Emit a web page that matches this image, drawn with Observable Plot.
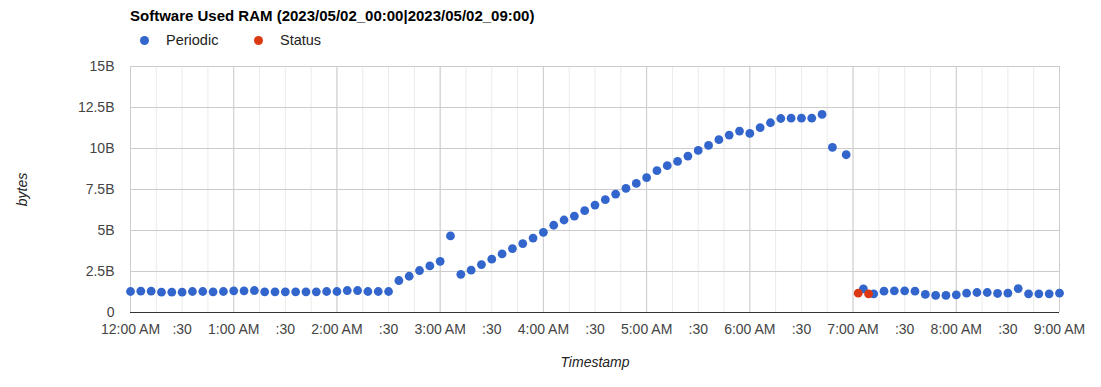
<!DOCTYPE html>
<html><head><meta charset="utf-8">
<script src="https://cdn.jsdelivr.net/npm/d3@7"></script>
<script src="https://cdn.jsdelivr.net/npm/@observablehq/plot@0.6"></script>
<style>
body{margin:0;background:#fff;font-family:"Liberation Sans",Arial,sans-serif;}
#hdr{position:relative;width:1101px;height:56px;}
#title{position:absolute;left:130px;top:8px;font-size:15px;font-weight:bold;color:#000;line-height:15px;white-space:nowrap;}
.sw{position:absolute;width:9px;height:9px;border-radius:50%;top:35.5px;}
.lt{position:absolute;top:32px;font-size:14.5px;line-height:16px;color:#222;white-space:nowrap;}
#chart svg{display:block;}
</style></head><body>
<div id="hdr">
  <div id="title">Software Used RAM (2023/05/02_00:00|2023/05/02_09:00)</div>
  <div id="legend"></div>
</div>
<div id="chart"></div>
<script>
const periodicTimes = [
 "00:00","00:06","00:12","00:18","00:24","00:30","00:36","00:42","00:48","00:54",
 "01:00","01:06","01:12","01:18","01:24","01:30","01:36","01:42","01:48","01:54",
 "02:00","02:06","02:12","02:18","02:24","02:30","02:36","02:42","02:48","02:54",
 "03:00","03:06","03:12","03:18","03:24","03:30","03:36","03:42","03:48","03:54",
 "04:00","04:06","04:12","04:18","04:24","04:30","04:36","04:42","04:48","04:54",
 "05:00","05:06","05:12","05:18","05:24","05:30","05:36","05:42","05:48","05:54",
 "06:00","06:06","06:12","06:18","06:24","06:30","06:36","06:42","06:48","06:56",
 "07:06","07:12","07:18","07:24","07:30","07:36","07:42","07:48","07:54",
 "08:00","08:06","08:12","08:18","08:24","08:30","08:36","08:42","08:48","08:54",
 "09:00"];
const periodicValues = [
 1.28,1.30,1.30,1.24,1.24,1.24,1.28,1.28,1.26,1.28,
 1.32,1.32,1.34,1.26,1.26,1.26,1.26,1.26,1.26,1.28,
 1.28,1.34,1.34,1.28,1.28,1.28,1.95,2.21,2.56,2.84,
 3.12,4.67,2.33,2.58,2.92,3.25,3.57,3.90,4.20,4.54,
 4.89,5.32,5.64,5.88,6.21,6.55,6.88,7.22,7.57,7.87,
 8.22,8.65,8.95,9.21,9.54,9.88,10.19,10.54,10.82,11.06,
 10.92,11.27,11.57,11.83,11.85,11.85,11.85,12.08,10.07,9.62,
 1.44,1.14,1.30,1.32,1.32,1.30,1.10,1.04,1.04,
 1.08,1.18,1.22,1.22,1.16,1.18,1.46,1.14,1.14,1.14,
 1.18];
const statusTimes = ["07:03","07:09"];
const statusValues = [1.18,1.14];
const seriesNames = ["Periodic","Status"];
const seriesColors = ["#3366cc","#dc3912"];
const xTicks = ["00:00","00:30","01:00","01:30","02:00","02:30","03:00","03:30","04:00","04:30",
 "05:00","05:30","06:00","06:30","07:00","07:30","08:00","08:30","09:00"];
const xTickLabels = ["12:00 AM",":30","1:00 AM",":30","2:00 AM",":30","3:00 AM",":30","4:00 AM",":30",
 "5:00 AM",":30","6:00 AM",":30","7:00 AM",":30","8:00 AM",":30","9:00 AM"];
const yTicks = [0,2.5,5,7.5,10,12.5,15];
const yTickLabels = ["0","2.5B","5B","7.5B","10B","12.5B","15B"];

const parse = d3.utcParse("%H:%M");
const data = [
  ...periodicTimes.map((t,i)=>({t:parse(t), v:periodicValues[i], s:seriesNames[0]})),
  ...statusTimes.map((t,i)=>({t:parse(t), v:statusValues[i], s:seriesNames[1]}))
];
const x0 = parse("00:00"), x1 = parse("09:00");
const xEnd = d3.utcMinute.offset(x1, 1);
const minor = d3.utcMinute.every(15).range(x0, xEnd);
const hours = d3.utcHour.range(x0, xEnd);
const xt = xTicks.map(parse);
const xLab = new Map(xt.map((d,i)=>[+d, xTickLabels[i]]));
const yLab = new Map(yTicks.map((d,i)=>[d, yTickLabels[i]]));

// legend
const leg = document.getElementById("legend");
const legX = [[140,166],[254,280]];
seriesNames.forEach((n,i)=>{
  const sw = document.createElement("div");
  sw.className="sw"; sw.style.left=legX[i][0]+"px"; sw.style.background=seriesColors[i];
  const lt = document.createElement("div");
  lt.className="lt"; lt.style.left=legX[i][1]+"px"; lt.textContent=n;
  leg.appendChild(sw); leg.appendChild(lt);
});

const plot = Plot.plot({
  width:1101, height:331, marginTop:10, marginBottom:75, marginLeft:130, marginRight:42,
  style:{fontFamily:"'Liberation Sans',Arial,sans-serif", fontSize:"14px", color:"#444", background:"#fff"},
  x:{type:"utc", domain:[x0,x1]},
  y:{domain:[0,15]},
  color:{domain:seriesNames, range:seriesColors},
  marks:[
    Plot.ruleX(minor,{stroke:"#ebebeb"}),
    Plot.ruleX(hours,{stroke:"#cccccc"}),
    Plot.ruleY(yTicks,{stroke:"#cccccc"}),
    Plot.ruleY([0],{stroke:"#333333"}),
    Plot.axisX(xt,{tickSize:0, tickPadding:12, tickFormat:d=>xLab.get(+d), label:null, fill:"#444"}),
    Plot.axisY(yTicks,{tickSize:0, tickPadding:16, tickFormat:d=>yLab.get(d), label:null, fill:"#444"}),
    Plot.dot(data,{x:"t", y:"v", fill:"s", r:4.4}),
    Plot.text(["Timestamp"],{text:d=>d, frameAnchor:"bottom", lineAnchor:"middle", textAnchor:"middle", dy:50, fontStyle:"italic", fill:"#222", fontSize:14}),
    Plot.text(["bytes"],{text:d=>d, frameAnchor:"left", lineAnchor:"middle", textAnchor:"middle", dx:-108, rotate:-90, fontStyle:"italic", fill:"#222", fontSize:14})
  ]
});
document.getElementById("chart").appendChild(plot);
</script>
</body></html>
